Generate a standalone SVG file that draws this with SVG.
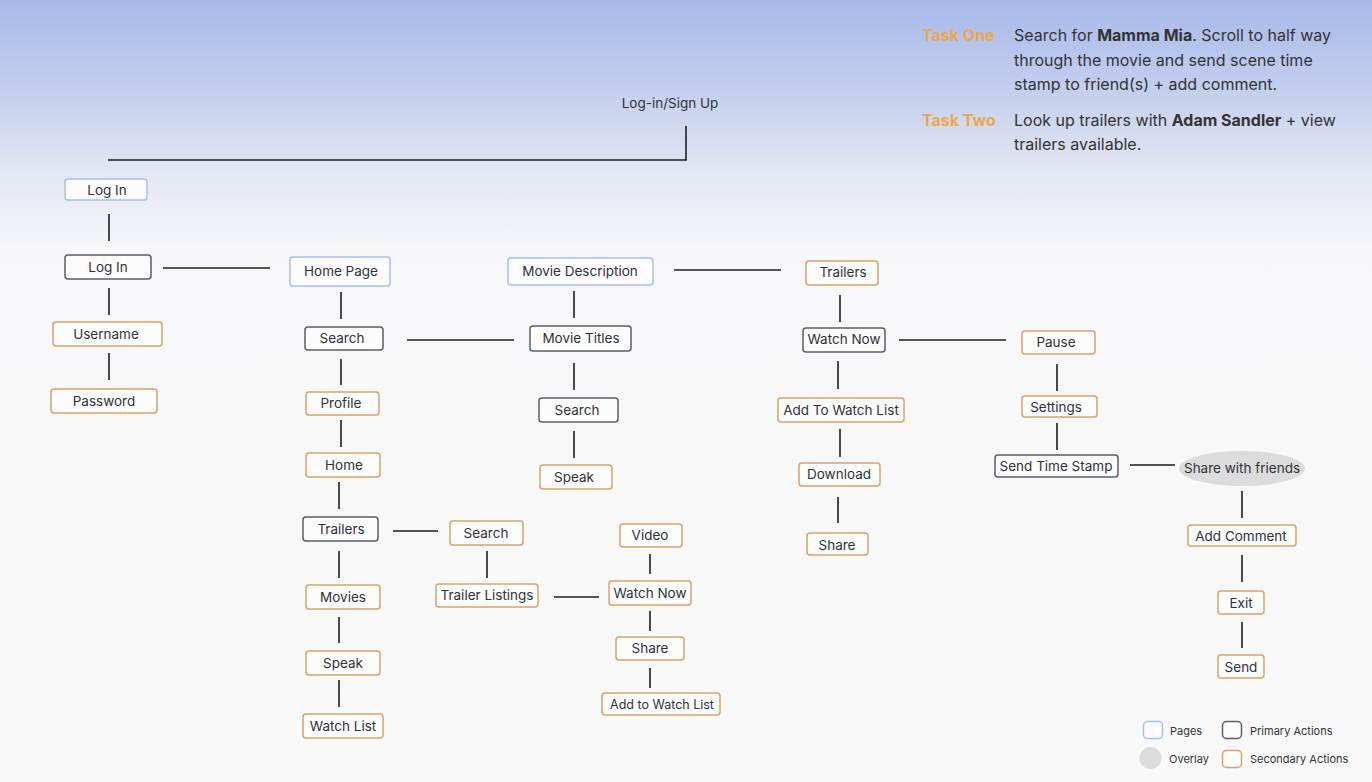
<svg xmlns="http://www.w3.org/2000/svg" width="1372" height="782" viewBox="0 0 1372 782">
<defs>
<linearGradient id="bg" x1="0" y1="0" x2="0" y2="1">
<stop offset="0" stop-color="#a7b9ea"/>
<stop offset="0.12" stop-color="#c5d0ee"/>
<stop offset="0.22" stop-color="#e3e7f2"/>
<stop offset="0.32" stop-color="#f7f7f9"/>
<stop offset="1" stop-color="#f9f9f9"/>
</linearGradient>
<style>
.n{fill:#fcfcfc;stroke-width:1.5}
.pg{stroke:#a8bff0}
.pr{stroke:#5a5e66}
.se{stroke:#d7a264}
.t{font-family:Inter,"Liberation Sans",sans-serif;font-size:13.5px;fill:#2f323a;text-anchor:middle;dominant-baseline:central}
.c line{stroke:#1e1e1e;stroke-width:1.6}
.task{font-family:Inter,"Liberation Sans",sans-serif;font-size:16px;font-weight:700;fill:#eaa94c}
.desc{font-family:Inter,"Liberation Sans",sans-serif;font-size:16px;fill:#333}
.lg{font-family:Inter,"Liberation Sans",sans-serif;font-size:11px;fill:#333;dominant-baseline:central}
</style>
</defs>
<rect width="1372" height="782" fill="url(#bg)"/>

<g id="tasks">
<text class="task" x="922" y="41">Task One</text>
<text class="desc" x="1014" y="41">Search for <tspan font-weight="700">Mamma Mia</tspan>. Scroll to half way</text>
<text class="desc" x="1014" y="66">through the movie and send scene time</text>
<text class="desc" x="1014" y="90">stamp to friend(s) + add comment.</text>
<text class="task" x="922" y="126">Task Two</text>
<text class="desc" x="1014" y="126">Look up trailers with <tspan font-weight="700">Adam Sandler</tspan> + view</text>
<text class="desc" x="1014" y="150">trailers available.</text>
</g>

<g id="title"><text class="t" x="670" y="103">Log-in/Sign Up</text></g>

<g class="c" id="connectors">
<line x1="108" y1="160" x2="686" y2="160"/>
<line x1="686" y1="126" x2="686" y2="160.8"/>
<line x1="109" y1="214" x2="109" y2="241"/>
<line x1="163" y1="268" x2="270" y2="268"/>
<line x1="109" y1="288" x2="109" y2="315"/>
<line x1="109" y1="353" x2="109" y2="380"/>
<line x1="341" y1="292" x2="341" y2="319"/>
<line x1="407" y1="340" x2="514" y2="340"/>
<line x1="341" y1="359" x2="341" y2="385"/>
<line x1="341" y1="420" x2="341" y2="447"/>
<line x1="339" y1="482" x2="339" y2="509"/>
<line x1="393" y1="531" x2="438" y2="531"/>
<line x1="339" y1="551" x2="339" y2="578"/>
<line x1="339" y1="617" x2="339" y2="643"/>
<line x1="339" y1="680" x2="339" y2="707"/>
<line x1="487" y1="551" x2="487" y2="578"/>
<line x1="554" y1="597" x2="599" y2="597"/>
<line x1="650" y1="554" x2="650" y2="574"/>
<line x1="650" y1="611" x2="650" y2="631"/>
<line x1="650" y1="668" x2="650" y2="688"/>
<line x1="574" y1="291" x2="574" y2="318"/>
<line x1="574" y1="363" x2="574" y2="390"/>
<line x1="574" y1="431" x2="574" y2="458"/>
<line x1="674" y1="270" x2="781" y2="270"/>
<line x1="840" y1="295" x2="840" y2="322"/>
<line x1="899" y1="340" x2="1006" y2="340"/>
<line x1="838" y1="361" x2="838" y2="389"/>
<line x1="840" y1="429" x2="840" y2="457"/>
<line x1="838" y1="497" x2="838" y2="523"/>
<line x1="1057" y1="364" x2="1057" y2="391"/>
<line x1="1057" y1="423" x2="1057" y2="450"/>
<line x1="1130" y1="465" x2="1175" y2="465"/>
<line x1="1242" y1="491" x2="1242" y2="518"/>
<line x1="1242" y1="555" x2="1242" y2="582"/>
<line x1="1242" y1="622" x2="1242" y2="648"/>
</g>

<g id="login-page"><rect class="n pg" x="65" y="179" width="82" height="21" rx="3"/><text class="t" x="107" y="190">Log In</text></g>
<g id="login"><rect class="n pr" x="65" y="255" width="86" height="24" rx="3"/><text class="t" x="108" y="267">Log In</text></g>
<g id="username"><rect class="n se" x="53" y="322" width="109" height="24" rx="3"/><text class="t" x="106" y="334">Username</text></g>
<g id="password"><rect class="n se" x="51" y="389" width="106" height="24" rx="3"/><text class="t" x="104" y="401">Password</text></g>

<g id="home-page"><rect class="n pg" x="290" y="257" width="100" height="29" rx="3"/><text class="t" x="341" y="271">Home Page</text></g>
<g id="search1"><rect class="n pr" x="305" y="327" width="78" height="23" rx="3"/><text class="t" x="342" y="338">Search</text></g>
<g id="profile"><rect class="n se" x="306" y="392" width="73" height="23" rx="3"/><text class="t" x="341" y="403">Profile</text></g>
<g id="home"><rect class="n se" x="306" y="453" width="74" height="24" rx="3"/><text class="t" x="344" y="465">Home</text></g>
<g id="trailers1"><rect class="n pr" x="303" y="517" width="75" height="24" rx="3"/><text class="t" x="341" y="529">Trailers</text></g>
<g id="movies"><rect class="n se" x="306" y="585" width="74" height="24" rx="3"/><text class="t" x="343" y="597">Movies</text></g>
<g id="speak1"><rect class="n se" x="306" y="651" width="74" height="24" rx="3"/><text class="t" x="343" y="663">Speak</text></g>
<g id="watch-list"><rect class="n se" x="303" y="714" width="80" height="24" rx="3"/><text class="t" x="343" y="726">Watch List</text></g>

<g id="search2"><rect class="n se" x="450" y="521" width="73" height="24" rx="3"/><text class="t" x="486" y="533">Search</text></g>
<g id="trailer-listings"><rect class="n se" x="436" y="584" width="102" height="23" rx="3"/><text class="t" x="487" y="595">Trailer Listings</text></g>
<g id="video"><rect class="n se" x="620" y="524" width="62" height="23" rx="3"/><text class="t" x="650" y="535">Video</text></g>
<g id="watch-now1"><rect class="n se" x="609" y="581" width="82" height="24" rx="3"/><text class="t" x="650" y="593">Watch Now</text></g>
<g id="share1"><rect class="n se" x="616" y="637" width="68" height="23" rx="3"/><text class="t" x="650" y="648">Share</text></g>
<g id="add-watch1"><rect class="n se" x="602" y="693" width="118" height="22" rx="3"/><text class="t" x="662" y="704" style="font-size:12.5px">Add to Watch List</text></g>

<g id="movie-description"><rect class="n pg" x="508" y="258" width="145" height="27" rx="3"/><text class="t" x="580" y="271">Movie Description</text></g>
<g id="movie-titles"><rect class="n pr" x="530" y="326" width="101" height="25" rx="3"/><text class="t" x="581" y="338">Movie Titles</text></g>
<g id="search3"><rect class="n pr" x="539" y="398" width="79" height="24" rx="3"/><text class="t" x="577" y="410">Search</text></g>
<g id="speak2"><rect class="n se" x="540" y="465" width="72" height="24" rx="3"/><text class="t" x="574" y="477">Speak</text></g>

<g id="trailers2"><rect class="n se" x="806" y="261" width="72" height="24" rx="3"/><text class="t" x="843" y="272">Trailers</text></g>
<g id="watch-now2"><rect class="n pr" x="803" y="328" width="82" height="24" rx="3"/><text class="t" x="844" y="339">Watch Now</text></g>
<g id="add-watch2"><rect class="n se" x="778" y="398" width="126" height="24" rx="3"/><text class="t" x="841" y="410">Add To Watch List</text></g>
<g id="download"><rect class="n se" x="799" y="463" width="81" height="23" rx="3"/><text class="t" x="839" y="474">Download</text></g>
<g id="share2"><rect class="n se" x="807" y="533" width="61" height="22" rx="3"/><text class="t" x="837" y="545">Share</text></g>

<g id="pause"><rect class="n se" x="1022" y="331" width="73" height="23" rx="3"/><text class="t" x="1056" y="342">Pause</text></g>
<g id="settings"><rect class="n se" x="1022" y="396" width="75" height="21" rx="3"/><text class="t" x="1056" y="407">Settings</text></g>
<g id="send-time-stamp"><rect class="n pr" x="995" y="455" width="123" height="22" rx="3"/><text class="t" x="1056" y="466">Send Time Stamp</text></g>
<g id="share-friends"><ellipse cx="1242" cy="468.5" rx="63" ry="17.5" fill="#dcdcdc"/><text class="t" x="1242" y="468">Share with friends</text></g>
<g id="add-comment"><rect class="n se" x="1188" y="525" width="108" height="21" rx="3"/><text class="t" x="1241" y="536">Add Comment</text></g>
<g id="exit"><rect class="n se" x="1218" y="591" width="46" height="23" rx="3"/><text class="t" x="1241" y="603">Exit</text></g>
<g id="send"><rect class="n se" x="1218" y="655" width="46" height="23" rx="3"/><text class="t" x="1241" y="667">Send</text></g>

<g id="legend">
<rect class="n pg" x="1143.5" y="721.5" width="19" height="17" rx="4"/>
<text class="lg" x="1170" y="731">Pages</text>
<rect class="n pr" x="1222.5" y="721.5" width="19" height="17" rx="4"/>
<text class="lg" x="1250" y="731">Primary Actions</text>
<circle cx="1150.5" cy="758" r="11" fill="#dcdcdc"/>
<text class="lg" x="1169" y="759">Overlay</text>
<rect class="n se" x="1222.5" y="750.5" width="19" height="17" rx="4"/>
<text class="lg" x="1250" y="759">Secondary Actions</text>
</g>
</svg>
